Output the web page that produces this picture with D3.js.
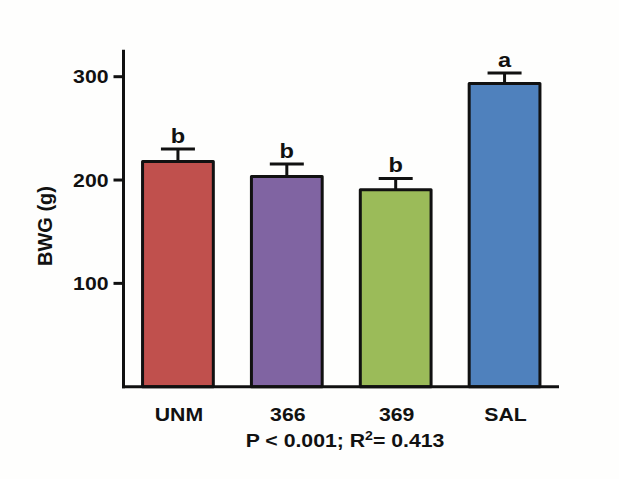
<!DOCTYPE html>
<html>
<head>
<meta charset="utf-8">
<script src="https://cdn.jsdelivr.net/npm/d3@7/dist/d3.min.js"></script>
<style>
  html, body { margin: 0; padding: 0; background: #fefefd; }
  svg { display: block; }
  text { font-family: "Liberation Sans", Arial, sans-serif; font-weight: bold; fill: #111; }
</style>
</head>
<body>
<svg id="chart" width="619" height="479"></svg>
<script>
// Body weight gain by treatment group
const groups = ["UNM", "366", "369", "SAL"];
const bwg = [218, 203.5, 190.5, 293.5];
const sem = [12, 12, 11, 10];
const letters = ["b", "b", "b", "a"];
const colors = ["#c0504d", "#8064a2", "#9bbb59", "#4f81bd"];
const yTicks = [100, 200, 300];
const yLabel = "BWG (g)";

const svg = d3.select("#chart");
svg.append("rect").attr("width", 619).attr("height", 479).attr("fill", "#fefefd");

const x0 = 123.5, x1 = 559, yBase = 386.7;
const x = d3.scaleBand().domain(groups).range([x0, x1]).paddingInner(0.35).paddingOuter(0.175);
const y = d3.scaleLinear().domain([0, 300]).range([yBase, 76.7]);
const yTop = 326;
const sx = 1.18; // horizontal text widening

const ink = "#111";

// bars
const g = svg.append("g");
groups.forEach((c, i) => {
  const xc = x(c) + x.bandwidth() / 2;
  const top = y(bwg[i]);
  const capY = y(bwg[i] + sem[i]);
  // error bar
  g.append("line").attr("x1", xc).attr("x2", xc).attr("y1", top).attr("y2", capY)
    .attr("stroke", ink).attr("stroke-width", 3);
  g.append("line").attr("x1", xc - 17).attr("x2", xc + 17).attr("y1", capY).attr("y2", capY)
    .attr("stroke", ink).attr("stroke-width", 3);
  g.append("rect")
    .attr("x", x(c)).attr("y", top)
    .attr("width", x.bandwidth()).attr("height", yBase - top)
    .attr("fill", colors[i]).attr("stroke", ink).attr("stroke-width", 3)
    .attr("stroke-linejoin", "round");
  g.append("text")
    .attr("transform", `translate(${xc},${capY - 6}) scale(${sx},1)`)
    .attr("text-anchor", "middle").attr("font-size", 20)
    .text(letters[i]);
});

// axes
const ax = svg.append("g");
ax.append("line").attr("x1", x0).attr("x2", x0).attr("y1", y(yTop)).attr("y2", yBase + 1.5)
  .attr("stroke", ink).attr("stroke-width", 3);
ax.append("line").attr("x1", x0 - 1.5).attr("x2", x1).attr("y1", yBase).attr("y2", yBase)
  .attr("stroke", ink).attr("stroke-width", 3);
yTicks.forEach(t => {
  ax.append("line").attr("x1", x0 - 10).attr("x2", x0).attr("y1", y(t)).attr("y2", y(t))
    .attr("stroke", ink).attr("stroke-width", 3);
  ax.append("text")
    .attr("transform", `translate(${x0 - 15},${y(t) + 6.5}) scale(${sx},1)`)
    .attr("text-anchor", "end").attr("font-size", 18)
    .text(t);
});

// category labels
groups.forEach(c => {
  svg.append("text")
    .attr("transform", `translate(${x(c) + x.bandwidth() / 2 + 1},${421}) scale(${sx},1)`)
    .attr("text-anchor", "middle").attr("font-size", 18)
    .text(c);
});

// statistics line
const st = svg.append("text")
  .attr("transform", `translate(345,447) scale(${sx},1)`)
  .attr("text-anchor", "middle").attr("font-size", 18);
st.append("tspan").text("P < 0.001; R");
st.append("tspan").attr("font-size", 12).attr("dy", -7).text("2");
st.append("tspan").attr("dy", 7).text("= 0.413");

// y axis title
svg.append("text")
  .attr("transform", `translate(52,226) rotate(-90)`)
  .attr("text-anchor", "middle").attr("font-size", 20)
  .text(yLabel);
</script>
</body>
</html>
